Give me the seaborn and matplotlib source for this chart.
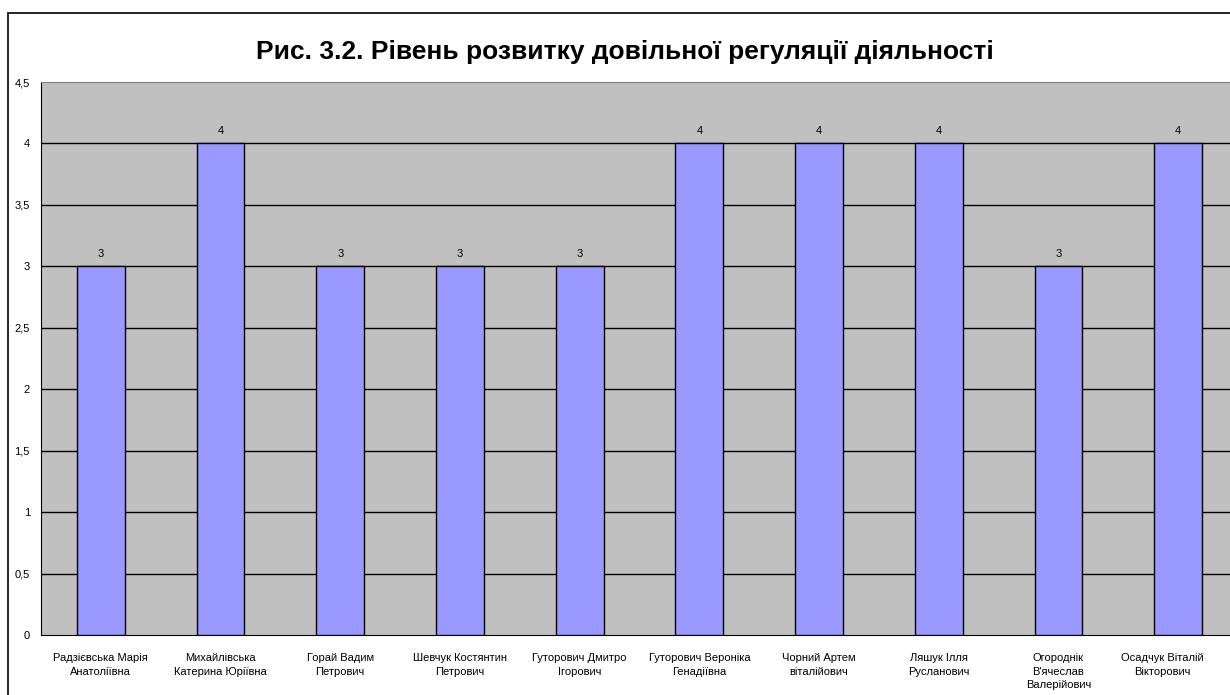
import matplotlib
matplotlib.use("Agg")
import matplotlib.pyplot as plt
import matplotlib.transforms as mtransforms
import seaborn as sns
import numpy as np

# Дані
names = [
    "Радзієвська Марія\nАнатоліївна",
    "Михайлівська\nКатерина Юріївна",
    "Горай Вадим\nПетрович",
    "Шевчук Костянтин\nПетрович",
    "Гуторович Дмитро\nІгорович",
    "Гуторович Вероніка\nГенадіївна",
    "Чорний Артем\nвіталійович",
    "Ляшук Ілля\nРусланович",
    "Огороднік\nВ'ячеслав\nВалерійович",
    "Осадчук Віталій\nВікторович",
]
levels = [3, 4, 3, 3, 3, 4, 4, 4, 3, 4]
y_ticks = [0, 0.5, 1, 1.5, 2, 2.5, 3, 3.5, 4, 4.5]
y_labels = ["0", "0,5", "1", "1,5", "2", "2,5", "3", "3,5", "4", "4,5"]

sns.set_style("white")
plt.rcParams['font.family'] = ['Liberation Sans', 'DejaVu Sans']
plt.rcParams['text.color'] = 'black'
plt.rcParams['xtick.color'] = 'black'
plt.rcParams['ytick.color'] = 'black'

W, H = 1230, 695
fig = plt.figure(figsize=(W / 100, H / 100), dpi=100)

# рамка діаграми
fig.add_artist(plt.Rectangle((7.5 / W, -0.1), 1.2, (H - 12.5) / H + 0.1,
                             transform=fig.transFigure, fill=False,
                             edgecolor="black", linewidth=1.2))

left, right, top, bottom = 41, 1238, 82, 635
ax = fig.add_axes([left / W, (H - bottom) / H, (right - left) / W, (bottom - top) / H])
ax.set_facecolor("#C0C0C0")

sns.barplot(x=names, y=levels, color="#9999FF", saturation=1, width=0.4,
            edgecolor="black", linewidth=1, ax=ax, zorder=3)

ax.set_ylim(0, 4.5)
ax.set_xlim(-0.5, len(names) - 0.5)
ax.set_yticks(y_ticks)
ax.set_yticklabels(y_labels, fontsize=8)
for y in y_ticks[1:-1]:
    ax.axhline(y, color="black", linewidth=1, zorder=1)

ax.tick_params(axis="x", which="major", length=0, labelsize=8, pad=13)
ax.set_xticks(np.arange(-0.5, len(names), 1), minor=True)
ax.tick_params(axis="x", which="minor", length=5, width=1, color="black", direction="out")
ax.tick_params(axis="y", length=5, width=1, color="black", direction="out", pad=3)
for lbl in ax.get_xticklabels():
    lbl.set_linespacing(1.45)
# останній підпис зсунутий ліворуч, бо область діаграми обрізана
last = ax.get_xticklabels()[-1]
last.set_transform(last.get_transform() + mtransforms.ScaledTranslation(-16 / 100, 0, fig.dpi_scale_trans))

ax.spines["right"].set_visible(False)
ax.spines["top"].set_color("#808080")
ax.spines["left"].set_color("black")
ax.spines["bottom"].set_color("black")

for i, v in enumerate(levels):
    ax.text(i, v + 0.06, str(v), ha="center", va="bottom", fontsize=8, zorder=4)

ax.set_xlabel("")
ax.set_ylabel("")

fig.text(625 / W, 1 - 52 / H, "Рис. 3.2. Рівень розвитку довільної регуляції діяльності",
         ha="center", va="center", fontsize=19, fontweight="bold")

fig.savefig("out.png", dpi=100)
